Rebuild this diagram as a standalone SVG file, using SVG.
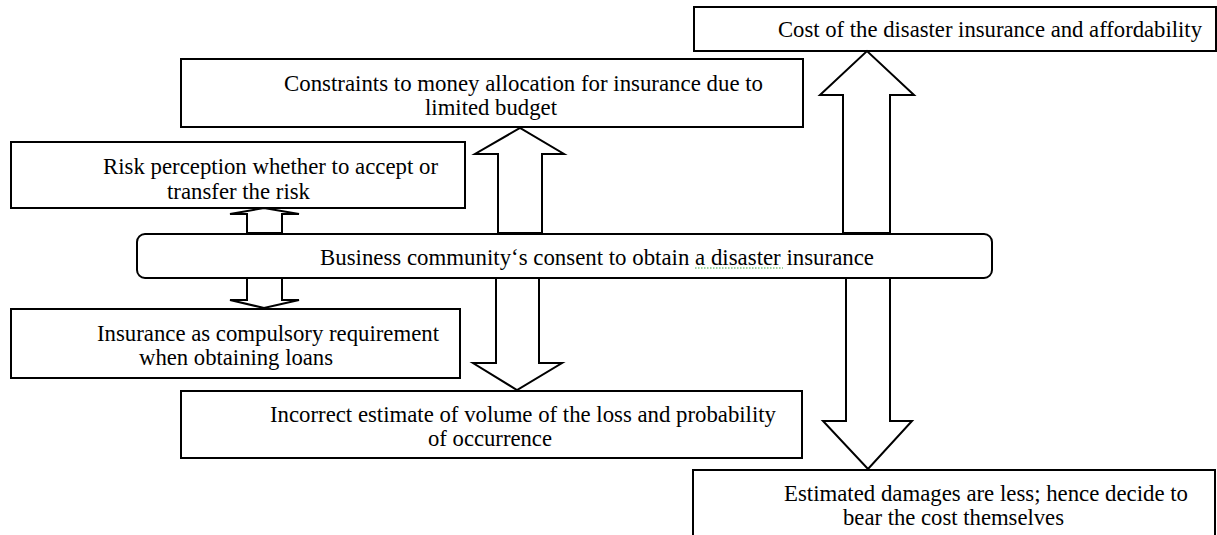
<svg xmlns="http://www.w3.org/2000/svg" width="1217" height="535" viewBox="0 0 1217 535">
  <style>
    .box { fill: #ffffff; stroke: #000000; stroke-width: 2; }
    .arrow { fill: #ffffff; stroke: #000000; stroke-width: 2; stroke-linejoin: miter; }
    .t { font-family: "Liberation Serif", "Times New Roman", serif; font-size: 23px; fill: #000000; }
    .spell { stroke: #3aa23a; stroke-width: 1.2; stroke-dasharray: 1.5 1.5; fill: none; }
  </style>
  <rect width="1217" height="535" fill="#ffffff"/>

  <g id="node-cost">
    <rect class="box" x="694" y="7" width="522" height="44"/>
    <text class="t" x="778" y="37" textLength="424" lengthAdjust="spacingAndGlyphs">Cost of the disaster insurance and affordability</text>
  </g>

  <g id="node-constraints">
    <rect class="box" x="181" y="59" width="622" height="68"/>
    <text class="t" x="284" y="91" textLength="479" lengthAdjust="spacingAndGlyphs">Constraints to money allocation for insurance due to</text>
    <text class="t" x="425" y="115" textLength="132" lengthAdjust="spacingAndGlyphs">limited budget</text>
  </g>

  <g id="node-risk">
    <rect class="box" x="11" y="142" width="454" height="66"/>
    <text class="t" x="103" y="174" textLength="335" lengthAdjust="spacingAndGlyphs">Risk perception whether to accept or</text>
    <text class="t" x="167" y="199" textLength="143" lengthAdjust="spacingAndGlyphs">transfer the risk</text>
  </g>

  <g id="node-business">
    <rect class="box" x="137" y="234" width="855" height="44" rx="8" ry="8"/>
    <text class="t" x="320" y="265" textLength="554" lengthAdjust="spacingAndGlyphs">Business community‘s consent to obtain a disaster insurance</text>
    <line class="spell" x1="695" y1="268" x2="783" y2="268"/>
  </g>

  <g id="node-insurance">
    <rect class="box" x="11" y="309" width="449" height="69"/>
    <text class="t" x="97" y="341" textLength="342" lengthAdjust="spacingAndGlyphs">Insurance as compulsory requirement</text>
    <text class="t" x="139" y="365" textLength="194" lengthAdjust="spacingAndGlyphs">when obtaining loans</text>
  </g>

  <g id="node-incorrect">
    <rect class="box" x="181" y="391" width="621" height="67"/>
    <text class="t" x="270" y="422" textLength="506" lengthAdjust="spacingAndGlyphs">Incorrect estimate of volume of the loss and probability</text>
    <text class="t" x="428" y="446" textLength="124" lengthAdjust="spacingAndGlyphs">of occurrence</text>
  </g>

  <g id="node-estimated">
    <rect class="box" x="693" y="470" width="522" height="72"/>
    <text class="t" x="784" y="501" textLength="404" lengthAdjust="spacingAndGlyphs">Estimated damages are less; hence decide to</text>
    <text class="t" x="843" y="525" textLength="221" lengthAdjust="spacingAndGlyphs">bear the cost themselves</text>
  </g>

  <g id="connectors">
    <polygon id="arrow-risk" class="arrow" points="247,233 247,214 230,214 264,208 299,214 282,214 282,233"/>
    <polygon id="arrow-insurance" class="arrow" points="247,278 247,300 230,300 264,308 299,300 282,300 282,278"/>
    <polygon id="arrow-constraints" class="arrow" points="498,233 498,154 475,154 520,128 564,154 542,154 542,233"/>
    <polygon id="arrow-cost" class="arrow" points="843,233 843,95 820,95 867,51 914,95 890,95 890,233"/>
    <polygon id="arrow-incorrect" class="arrow" points="496,278 496,363 473,363 517,390 562,363 539,363 539,278"/>
    <polygon id="arrow-estimated" class="arrow" points="846,278 846,421 823,421 868,469 912,421 890,421 890,278"/>
  </g>
</svg>
